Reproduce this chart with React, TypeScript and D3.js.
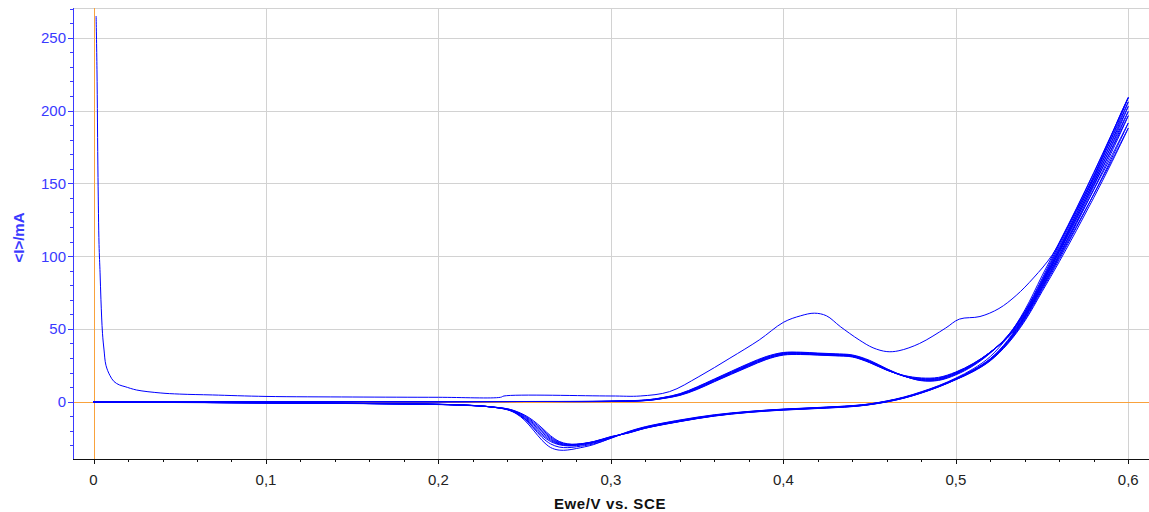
import React from "react";
import * as d3 from "d3";

// Cyclic voltammogram: current <I> (mA) against potential Ewe (V vs. SCE)

const WIDTH = 1149;
const HEIGHT = 512;
const PLOT = { left: 73, right: 1149, top: 8, bottom: 459 };

const X_DOMAIN: [number, number] = [-0.0119, 0.612];
const Y_DOMAIN: [number, number] = [-39.4, 270.5];

const xTicks = [0, 0.1, 0.2, 0.3, 0.4, 0.5, 0.6];
const xTickLabels = ["0", "0,1", "0,2", "0,3", "0,4", "0,5", "0,6"];
const yTicks = [0, 50, 100, 150, 200, 250];
const yTickLabels = ["0", "50", "100", "150", "200", "250"];

// First cycle, anodic sweep (starts with the charging spike)
const firstForwardPotential = [
  0.0015, 0.002, 0.0026, 0.0032, 0.0038, 0.0043, 0.0052, 0.0061, 0.0072, 0.0095,
  0.0119, 0.015, 0.0183, 0.025, 0.0386, 0.05, 0.069, 0.1, 0.15, 0.2, 0.236, 0.238,
  0.3, 0.317, 0.334, 0.351, 0.369, 0.386, 0.4, 0.41, 0.418, 0.425, 0.433, 0.444,
  0.452, 0.46, 0.467, 0.479, 0.494, 0.502, 0.514, 0.525, 0.535, 0.545, 0.556, 0.567,
  0.578, 0.587, 0.596, 0.6,
];
const firstForwardCurrent = [
  265, 228, 154, 108, 88.5, 70, 47, 35.5, 25, 18, 13.8, 11.5, 10.3, 8, 6, 5.2, 4.6,
  3.6, 3.2, 3.0, 3.0, 3.9, 3.9, 3.9, 6.9, 17.2, 29.9, 42.4, 54.5, 59, 60.8, 59, 51.6,
  42.4, 37, 34.4, 35, 40, 50.5, 56.7, 58.5, 64, 73, 85, 101, 125, 150, 174, 199, 209,
];

// Quiet region shared by the later anodic sweeps
const quietPotential = [0, 0.05, 0.1, 0.15, 0.2, 0.25];
const quietCurrent = [0, 0, 0, 0, 0, 0.1];

// Anodic sweep potentials from 0.30 V on
const forwardPotential = [
  0.3, 0.32, 0.33, 0.34, 0.35, 0.36, 0.37, 0.38, 0.39, 0.4, 0.41, 0.42, 0.43, 0.44,
  0.45, 0.46, 0.47, 0.48, 0.49, 0.5, 0.51, 0.52, 0.53, 0.54, 0.55, 0.56, 0.57, 0.58,
  0.59, 0.6,
];

// Cathodic sweep potentials, 0.60 V back to 0
const reversePotential = [
  0.6, 0.59, 0.58, 0.57, 0.56, 0.55, 0.54, 0.53, 0.52, 0.51, 0.5, 0.49, 0.48, 0.47,
  0.46, 0.45, 0.44, 0.42, 0.4, 0.38, 0.36, 0.34, 0.32, 0.31, 0.3, 0.29, 0.28, 0.275,
  0.27, 0.265, 0.26, 0.255, 0.25, 0.245, 0.24, 0.23, 0.22, 0.2, 0.15, 0.1, 0.05, 0,
];

const firstReverseCurrent = [
  209.0, 183.0, 157.5, 133.0, 109.5, 86.5, 63.0, 44.5, 31.0, 22.5, 16.2, 11.0, 6.8,
  3.2, 0.5, -1.5, -2.7, -4.0, -5.1, -6.7, -9.0, -12.6, -17.2, -20.6,
  -25.0, -29.5, -32.2, -33.2, -33.3, -31.5, -26.5, -19.5, -12.8, -8.2, -5.6, -3.5,
  -2.8, -2.0, -1.3, -0.9, -0.6, -0.3,
];

const cycle2Forward = [
  0.4, 1.2, 2.8, 5.5, 10.2, 15.6, 21.0, 26.3, 31.0, 33.8, 34.0, 33.4, 32.9, 32.1, 28.4,
  22.6, 17.6, 14.4, 14.6, 18.4, 24.6, 33.4, 45.2, 62.0, 84.5, 108.5, 132.5, 157.0,
  182.5, 209.0,
];
const cycle2Reverse = [
  209.0, 180.5, 154.0, 129.0, 105.0, 82.0, 59.5, 42.0, 29.6, 21.8, 15.8, 10.8, 6.6,
  3.0, 0.4, -1.6, -2.8, -4.1, -5.2, -6.8, -9.2, -12.8, -17.4, -20.8,
  -25.2, -29.0, -31.0, -31.6, -31.2, -29.0, -24.5, -18.0, -12.0, -7.9, -5.5, -3.6,
  -2.7, -1.9, -1.2, -0.8, -0.5, -0.2,
];

const cycle3Forward = [
  0.3, 1.1, 2.7, 5.3, 9.9, 15.3, 20.6, 25.9, 30.6, 33.5, 33.7, 33.1, 32.6, 31.8, 28.0,
  22.4, 17.6, 14.6, 14.9, 18.8, 25.0, 33.6, 45.0, 61.6, 83.6, 107.2, 130.8, 155.0,
  180.0, 206.0,
];
const cycle3Reverse = [
  206.0, 178.0, 152.0, 127.2, 103.6, 81.0, 58.8, 41.6, 29.3, 21.6, 15.6, 10.6, 6.4,
  2.9, 0.3, -1.7, -2.9, -4.2, -5.3, -6.9, -9.4, -13.0, -17.6, -21.0,
  -24.8, -28.4, -30.2, -30.4, -29.6, -27.4, -23.2, -17.4, -11.8, -7.8, -5.4, -3.6,
  -2.7, -1.9, -1.2, -0.8, -0.5, -0.2,
];

const cycle4Forward = [
  0.3, 1.0, 2.6, 5.1, 9.6, 15.0, 20.3, 25.5, 30.3, 33.2, 33.5, 32.9, 32.4, 31.6, 27.7,
  22.1, 17.5, 14.9, 15.2, 19.2, 25.3, 33.9, 45.0, 61.2, 82.8, 106.0, 129.4, 153.2,
  177.6, 203.0,
];
const cycle4Reverse = [
  203.0, 175.6, 150.0, 125.6, 102.4, 80.2, 58.2, 41.2, 29.0, 21.4, 15.5, 10.5, 6.3,
  2.8, 0.2, -1.8, -3.0, -4.3, -5.4, -7.0, -9.5, -13.2, -17.8, -21.1,
  -24.6, -28.0, -29.8, -30.1, -29.2, -26.6, -22.2, -16.6, -11.4, -7.6, -5.3, -3.6,
  -2.7, -1.9, -1.2, -0.8, -0.5, -0.2,
];

const cycle5Forward = [
  0.2, 0.9, 2.4, 4.9, 9.3, 14.6, 19.9, 25.1, 29.9, 32.9, 33.2, 32.6, 32.1, 31.3, 27.4,
  21.9, 17.5, 15.2, 15.6, 19.5, 25.6, 34.0, 44.8, 60.6, 81.8, 104.6, 127.6, 151.0,
  175.0, 199.5,
];
const cycle5Reverse = [
  199.5, 173.0, 148.0, 124.0, 101.0, 79.2, 57.6, 40.8, 28.8, 21.2, 15.4, 10.4, 6.2,
  2.7, 0.1, -1.9, -3.1, -4.4, -5.5, -7.1, -9.6, -13.4, -18.0, -21.3,
  -24.4, -27.8, -29.6, -29.8, -28.8, -25.8, -21.0, -15.6, -10.8, -7.3, -5.2, -3.6,
  -2.7, -1.9, -1.2, -0.8, -0.5, -0.2,
];

const cycle6Forward = [
  0.2, 0.8, 2.3, 4.7, 9.0, 14.3, 19.6, 24.8, 29.6, 32.6, 32.9, 32.4, 31.9, 31.1, 27.2,
  21.8, 17.6, 15.5, 15.9, 19.8, 25.8, 34.1, 44.6, 60.0, 80.8, 103.2, 126.0, 149.0,
  172.4, 196.5,
];
const cycle6Reverse = [
  196.5, 170.6, 146.0, 122.4, 99.8, 78.2, 57.0, 40.4, 28.6, 21.0, 15.3, 10.3, 6.1,
  2.6, 0.0, -2.0, -3.2, -4.5, -5.6, -7.2, -9.7, -13.5, -18.1, -21.4,
  -24.3, -27.6, -29.4, -29.5, -28.3, -25.0, -20.0, -14.8, -10.2, -7.0, -5.1, -3.5,
  -2.6, -1.8, -1.2, -0.8, -0.5, -0.2,
];

const cycle7Forward = [
  0.2, 0.8, 2.2, 4.5, 8.7, 14.0, 19.2, 24.4, 29.2, 32.3, 32.6, 32.2, 31.7, 30.9, 27.0,
  21.7, 17.8, 15.9, 16.3, 20.1, 26.0, 34.0, 44.2, 59.0, 79.2, 101.0, 123.2, 145.6,
  168.2, 191.5,
];
const cycle7Reverse = [
  191.5, 166.4, 142.6, 119.8, 97.8, 76.8, 56.2, 40.0, 28.3, 20.8, 15.2, 10.2, 6.0,
  2.5, -0.1, -2.0, -3.3, -4.6, -5.7, -7.3, -9.8, -13.6, -18.2, -21.5,
  -24.1, -27.5, -29.3, -29.2, -27.8, -24.2, -19.0, -13.9, -9.7, -6.8, -5.0, -3.5,
  -2.6, -1.8, -1.2, -0.8, -0.5, -0.2,
];

const cycle8Forward = [
  0.1, 0.7, 2.1, 4.3, 8.4, 13.7, 18.9, 24.0, 28.9, 32.0, 32.4, 32.0, 31.5, 30.7, 26.8,
  21.6, 18.0, 16.3, 16.7, 20.4, 26.2, 34.0, 43.8, 58.2, 77.8, 99.0, 120.6, 142.4,
  164.8, 188.0,
];
const cycle8Reverse = [
  188.0, 163.4, 140.2, 117.8, 96.2, 75.6, 55.4, 39.6, 28.1, 20.6, 15.1, 10.1, 5.9,
  2.4, -0.2, -2.1, -3.4, -4.7, -5.8, -7.4, -9.9, -13.7, -18.3, -21.6,
  -24.0, -27.4, -29.2, -29.0, -27.3, -23.4, -18.0, -13.0, -9.2, -6.6, -4.9, -3.5,
  -2.6, -1.8, -1.2, -0.8, -0.5, -0.2,
];

const laterCycles = [
  { forward: cycle2Forward, reverse: cycle2Reverse },
  { forward: cycle3Forward, reverse: cycle3Reverse },
  { forward: cycle4Forward, reverse: cycle4Reverse },
  { forward: cycle5Forward, reverse: cycle5Reverse },
  { forward: cycle6Forward, reverse: cycle6Reverse },
  { forward: cycle7Forward, reverse: cycle7Reverse },
  { forward: cycle8Forward, reverse: cycle8Reverse },
];

const FONT = "'Liberation Sans', Arial, sans-serif";
const TRACE = "#0000ff";
const AXIS_BLUE = "#3a3aff";
const ORANGE = "#f9a23c";
const GRID = "#d2d2d2";

const zip = (xs: number[], ys: number[]): [number, number][] =>
  xs.map((x, i) => [x, ys[i]] as [number, number]);

export default function App() {
  const x = d3.scaleLinear().domain(X_DOMAIN).range([PLOT.left, PLOT.right]);
  const y = d3.scaleLinear().domain(Y_DOMAIN).range([PLOT.bottom, PLOT.top]);

  const line = d3
    .line<[number, number]>()
    .x((d) => x(d[0]))
    .y((d) => y(d[1]))
    .curve(d3.curveCatmullRom.alpha(0.5));

  const traces: string[] = [];
  traces.push(
    line([
      ...zip(firstForwardPotential, firstForwardCurrent),
      ...zip(reversePotential, firstReverseCurrent).slice(1),
    ]) as string
  );
  laterCycles.forEach((c) => {
    traces.push(
      line([
        ...zip(quietPotential, quietCurrent),
        ...zip(forwardPotential, c.forward),
        ...zip(reversePotential, c.reverse).slice(1),
      ]) as string
    );
  });

  const xMinor = d3
    .range(0, 0.6001, 0.02)
    .filter((v) => Math.abs(v * 10 - Math.round(v * 10)) > 1e-6);
  const yMinor = d3
    .range(-30, 271, 10)
    .filter((v) => v % 50 !== 0);

  return (
    <div style={{ position: "absolute", left: 0, top: 0 }}>
      <svg width={WIDTH} height={HEIGHT} style={{ display: "block", background: "#fff" }}>
        <defs>
          <clipPath id="plot-area">
            <rect
              x={PLOT.left}
              y={PLOT.top}
              width={PLOT.right - PLOT.left}
              height={PLOT.bottom - PLOT.top}
            />
          </clipPath>
        </defs>

        {/* grid */}
        <line x1={PLOT.left} x2={PLOT.right} y1={PLOT.top + 0.5} y2={PLOT.top + 0.5} stroke={GRID} />
        {xTicks
          .filter((t) => t !== 0)
          .map((t) => (
            <line
              key={`gx${t}`}
              x1={Math.round(x(t)) + 0.5}
              x2={Math.round(x(t)) + 0.5}
              y1={PLOT.top}
              y2={PLOT.bottom}
              stroke={GRID}
            />
          ))}
        {yTicks
          .filter((t) => t !== 0)
          .map((t) => (
            <line
              key={`gy${t}`}
              x1={PLOT.left}
              x2={PLOT.right}
              y1={Math.round(y(t)) + 0.5}
              y2={Math.round(y(t)) + 0.5}
              stroke={GRID}
            />
          ))}

        {/* zero markers */}
        <line
          x1={Math.round(x(0)) + 0.5}
          x2={Math.round(x(0)) + 0.5}
          y1={PLOT.top}
          y2={PLOT.bottom}
          stroke={ORANGE}
        />
        <line
          x1={PLOT.left}
          x2={PLOT.right}
          y1={Math.round(y(0)) + 0.5}
          y2={Math.round(y(0)) + 0.5}
          stroke={ORANGE}
        />

        {/* traces */}
        <g clipPath="url(#plot-area)" fill="none" stroke={TRACE} strokeWidth={1}>
          {traces.map((d, i) => (
            <path key={i} d={d} />
          ))}
        </g>

        {/* y axis */}
        <line
          x1={PLOT.left + 0.5}
          x2={PLOT.left + 0.5}
          y1={PLOT.top}
          y2={PLOT.bottom}
          stroke={AXIS_BLUE}
        />
        {yTicks.map((t) => (
          <line
            key={`yt${t}`}
            x1={PLOT.left - 5}
            x2={PLOT.left}
            y1={Math.round(y(t)) + 0.5}
            y2={Math.round(y(t)) + 0.5}
            stroke={AXIS_BLUE}
          />
        ))}
        {yMinor.map((t) => (
          <line
            key={`ym${t}`}
            x1={PLOT.left - 3}
            x2={PLOT.left}
            y1={Math.round(y(t)) + 0.5}
            y2={Math.round(y(t)) + 0.5}
            stroke={AXIS_BLUE}
          />
        ))}
        {yTicks.map((t, i) => (
          <text
            key={`yl${t}`}
            x={PLOT.left - 7}
            y={y(t)}
            dy="0.36em"
            textAnchor="end"
            fontFamily={FONT}
            fontSize={15}
            fill={AXIS_BLUE}
          >
            {yTickLabels[i]}
          </text>
        ))}
        <text
          transform={`translate(24, ${(PLOT.top + PLOT.bottom) / 2 + 4}) rotate(-90)`}
          textAnchor="middle"
          fontFamily={FONT}
          fontSize={15}
          fontWeight="bold"
          fill={AXIS_BLUE}
        >
          {"<I>/mA"}
        </text>

        {/* x axis */}
        <line
          x1={PLOT.left}
          x2={PLOT.right}
          y1={PLOT.bottom + 0.5}
          y2={PLOT.bottom + 0.5}
          stroke="#111"
        />
        {xTicks.map((t) => (
          <line
            key={`xt${t}`}
            x1={Math.round(x(t)) + 0.5}
            x2={Math.round(x(t)) + 0.5}
            y1={PLOT.bottom}
            y2={PLOT.bottom + 5}
            stroke="#111"
          />
        ))}
        {xMinor.map((t) => (
          <line
            key={`xm${t}`}
            x1={Math.round(x(t)) + 0.5}
            x2={Math.round(x(t)) + 0.5}
            y1={PLOT.bottom}
            y2={PLOT.bottom + 3}
            stroke="#111"
          />
        ))}
        {xTicks.map((t, i) => (
          <text
            key={`xl${t}`}
            x={x(t)}
            y={PLOT.bottom + 26}
            textAnchor="middle"
            fontFamily={FONT}
            fontSize={15}
            fill="#222"
          >
            {xTickLabels[i]}
          </text>
        ))}
        <text
          x={610}
          y={509}
          textAnchor="middle"
          fontFamily={FONT}
          fontSize={15}
          fontWeight="bold"
          letterSpacing={0.6}
          fill="#111"
        >
          Ewe/V vs. SCE
        </text>
      </svg>
    </div>
  );
}
